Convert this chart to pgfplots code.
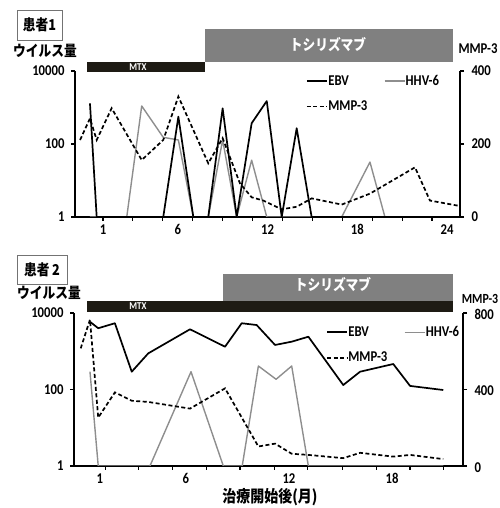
\documentclass[border=0pt]{standalone}
\usepackage{pgfplots}
\pgfplotsset{compat=1.18}
\usepackage{fontspec}
\newfontfamily\lat[FakeStretch=0.85]{Carlito}
\newfontfamily\jp[FakeStretch=0.85]{Noto Sans CJK JP}
\definecolor{barblack}{HTML}{1E1B14}
\definecolor{bargray}{HTML}{808080}
\definecolor{hhv}{HTML}{8E8E8E}
\newcommand\numfont{\lat\bfseries\fontsize{15}{17}\selectfont}
\newcommand\jpfont{\jp\bfseries\fontsize{15}{17}\selectfont}

\pgfplotstableread{
x y
0.13 1300
0.58 1
5.03 1
6.04 560
7.04 1
8.04 1
9.00 950
9.94 1
10.94 370
11.95 1500
12.95 1
13.95 270
14.95 1
24.87 1
}\ebvA
\pgfplotstableread{
x y
0.13 1
2.59 1
3.59 1100
5.03 152
6.04 129
7.04 1
8.04 1
9.00 129
9.94 1
10.94 36
11.95 1
16.96 1
18.85 32
19.85 1
24.87 1
}\hhvA
\pgfplotstableread{
x y
-0.53 211
0.13 270
0.58 211
1.58 298
3.59 156
5.03 211
6.04 330
8.04 147
9.00 216
10.16 92
10.94 54
11.72 45
12.95 21
13.95 28
14.95 51
16.96 34
18.85 64
21.86 136
22.86 45
24.87 30
}\mmpA
\pgfplotstableread{
x y
0.42 5900
0.90 4000
1.87 5400
2.85 292
3.81 880
6.24 3750
8.28 1315
9.25 5400
10.12 4850
11.19 1460
12.16 1780
13.13 2400
15.16 131
16.14 292
18.07 464
19.05 124
20.98 97
}\ebvB
\pgfplotstableread{
x y
0.42 292
0.90 1
3.91 1
6.30 292
8.18 1
9.28 1
10.22 411
11.25 185
12.16 411
13.13 1
20.98 1
}\hhvB
\pgfplotstableread{
x y
-0.12 615
0.42 765
0.90 253
1.87 385
2.85 341
3.81 335
6.24 300
8.28 406
10.22 102
11.19 117
12.16 64
13.13 58
15.16 41
16.14 69
18.07 49
19.05 58
20.98 36
}\mmpB

\pgfplotsset{
  common/.style={
    scale only axis, anchor=south west,
    axis line style={line width=2bp},
    tick align=outside, major tick length=4bp, minor tick length=4bp,
    tick style={black, line width=1.2bp},
    ticklabel style={font=\numfont},
    yminorticks=false,
  },
  ebvstyle/.style={black, line width=1.7bp, line join=round},
  hhvstyle/.style={hhv, line width=1.4bp, line join=round},
  mmpstyle/.style={black, line width=1.7bp, dash pattern=on 4bp off 2.5bp},
  legstyle/.style={
    legend columns=2,
    legend style={draw=none, fill=none, font=\numfont, row sep=13bp,
      /tikz/every even column/.append style={column sep=16bp},
      nodes={inner sep=0.5bp}},
    legend cell align=left,
    legend image code/.code={\draw[##1] (0bp,0bp) -- (20bp,0bp);},
  },
}

\begin{document}
\begin{tikzpicture}[x=1bp,y=1bp]
\path[use as bounding box] (0,0) rectangle (500,508);

% ---------- Panel 1 ----------
\fill[bargray] (205,446) rectangle (452.7,479);
\fill[barblack] (87,436) rectangle (205,446);
\node[text=white, font=\jpfont] at (328,463) {トシリズマブ};
\node[text=white, font=\lat\bfseries\fontsize{10.5}{12}\selectfont] at (138,441) {MTX};
\node[draw=black!55, line width=0.8bp, minimum width=45bp, minimum height=30bp, inner sep=0pt, font=\jpfont] at (39.5,483) {患者1};
\node[font=\jpfont] at (45,457.5) {ウイルス量};
\node[font=\numfont] at (478,459) {MMP-3};

\begin{axis}[common, at={(75bp,291bp)}, width=385bp, height=146bp,
  xmin=-0.87, xmax=24.87, ymode=log, ymin=1, ymax=10000,
  axis x line*=bottom, axis y line*=left,
  xtick={1,6,12,18,24}, xticklabels={1,6,12,18,24},
  minor xtick={1,3,...,23},
  major x tick style={draw=none},
  ytick={1,100,10000}, yticklabels={1,100,10000},
  yticklabel style={xshift=-3bp},
]
\addplot[hhvstyle] table {\hhvA};
\addplot[ebvstyle] table {\ebvA};
\end{axis}
\begin{axis}[common, at={(75bp,291bp)}, width=385bp, height=146bp,
  xmin=-0.87, xmax=24.87, ymin=0, ymax=400,
  axis x line=none, axis y line*=right,
  ytick={0,200,400}, yticklabels={0,200,400},
  yticklabel style={xshift=4bp},
  legstyle, legend style={at={(0.592,0.99)}, anchor=north west},
]
\addlegendimage{ebvstyle}
\addlegendentry{EBV}
\addlegendimage{hhvstyle}
\addlegendentry{HHV-6}
\addplot[mmpstyle] table {\mmpA};
\addlegendentry{MMP-3}
\end{axis}

% ---------- Panel 2 ----------
\fill[bargray] (222.7,207.3) rectangle (452.7,234);
\fill[barblack] (87,196.3) rectangle (452.7,207.3);
\node[text=white, font=\jpfont] at (333,223) {トシリズマブ};
\node[text=white, font=\lat\bfseries\fontsize{10.5}{12}\selectfont] at (138,202) {MTX};
\node[draw=black!55, line width=0.8bp, minimum width=50bp, minimum height=29bp, inner sep=0pt, font=\jpfont] at (42,238.5) {患者\,2};
\node[font=\jpfont] at (49,215) {ウイルス量};
\node[inner sep=0.5bp, font=\lat\bfseries\fontsize{14}{16}\selectfont] at (480,209) {MMP-3};

\begin{axis}[common, at={(74bp,42bp)}, width=389bp, height=153bp,
  xmin=-0.51, xmax=22.13, ymode=log, ymin=1, ymax=10000,
  axis x line*=bottom, axis y line*=left,
  xtick={1,6,12,18}, xticklabels={1,6,12,18},
  minor xtick={1.3,3.25,5.2,7.2,9.15,11.15,13.1,15.1,17.1,19.05,21},
  major x tick style={draw=none},
  ytick={1,100,10000}, yticklabels={1,100,10000},
  yticklabel style={xshift=-3bp},
]
\addplot[hhvstyle] table {\hhvB};
\addplot[ebvstyle] table {\ebvB};
\end{axis}
\begin{axis}[common, at={(74bp,42bp)}, width=389bp, height=153bp,
  xmin=-0.51, xmax=22.13, ymin=0, ymax=800,
  axis x line=none, axis y line*=right,
  ytick={0,400,800}, yticklabels={0,400,800},
  yticklabel style={xshift=4bp, yshift=-1.5bp},
  legstyle, legend style={at={(0.64,0.93)}, anchor=north west},
]
\addlegendimage{ebvstyle}
\addlegendentry{EBV}
\addlegendimage{hhvstyle}
\addlegendentry{HHV-6}
\addplot[mmpstyle] table {\mmpB};
\addlegendentry{MMP-3}
\end{axis}

\node[font=\jp\bfseries\fontsize{16.5}{18}\selectfont] at (270,11) {治療開始後(月)};
\end{tikzpicture}
\end{document}
